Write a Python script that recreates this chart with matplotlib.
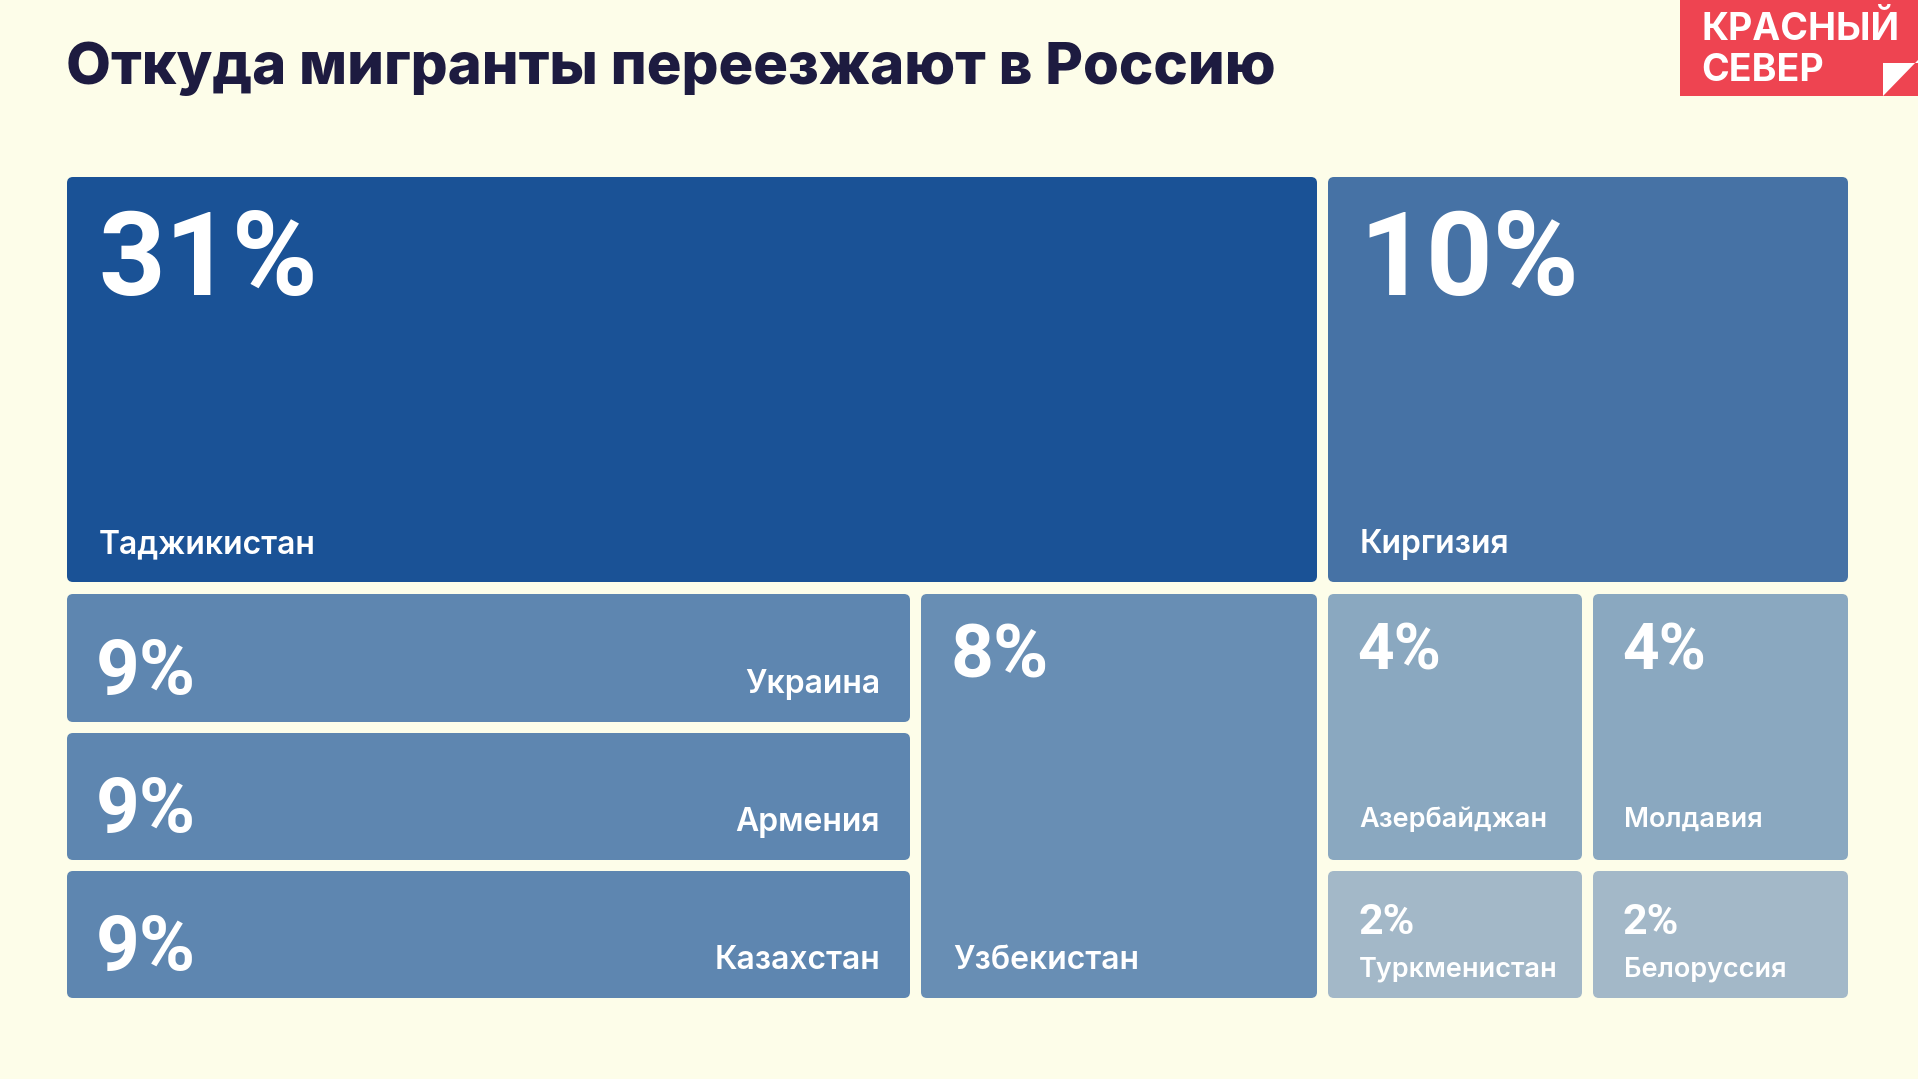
import matplotlib
matplotlib.use("Agg")
import matplotlib.pyplot as plt
from matplotlib.patches import FancyBboxPatch, Rectangle, Polygon

# ---------------- data ----------------
countries = ["Таджикистан", "Киргизия", "Украина", "Армения", "Казахстан",
             "Узбекистан", "Азербайджан", "Молдавия", "Туркменистан", "Белоруссия"]
shares = [31, 10, 9, 9, 9, 8, 4, 4, 2, 2]
title = "Откуда мигранты переезжают в Россию"
logo_lines = ["КРАСНЫЙ", "СЕВЕР"]

# ---------------- layout (grid of the designed treemap) ----------------
W, H = 1918, 1079
col_edges = [67, 910, 921, 1317, 1328, 1582, 1593, 1848]
row_edges = [177, 582, 594, 722, 733, 860, 871, 998]
# (col_start, col_end, row_start, row_end) indices into the edge lists
cells = [(0, 3, 0, 1), (4, 7, 0, 1),
         (0, 1, 2, 3), (0, 1, 4, 5), (0, 1, 6, 7),
         (2, 3, 2, 7),
         (4, 5, 2, 5), (6, 7, 2, 5),
         (4, 5, 6, 7), (6, 7, 6, 7)]
kinds = ["big", "big", "row", "row", "row", "tall", "mid", "mid", "small", "small"]

tile_colors = {31: "#1a5296", 10: "#4672a5", 9: "#5e86b0", 8: "#688eb4",
               4: "#8aa8c0", 2: "#a3b8c8"}
BG = "#fdfde9"
TITLE_C = "#1d1b40"
RED = "#ee4451"
FONT = ["Inter", "DejaVu Sans"]
NUMFONT = ["Roboto", "DejaVu Sans"]

fig = plt.figure(figsize=(W / 100, H / 100), dpi=100, facecolor=BG)
ax = fig.add_axes([0, 0, 1, 1])
ax.set_xlim(0, W)
ax.set_ylim(H, 0)
ax.axis("off")
ax.set_facecolor(BG)

def num(x, y, s, size):
    ax.text(x, y, s, color="white", fontsize=size, fontweight="bold",
            family=NUMFONT, va="baseline", ha="left")

def lab(x, y, s, size, ha="left"):
    ax.text(x, y, s, color="white", fontsize=size, fontweight="semibold",
            family=FONT, va="baseline", ha=ha)

for name, val, cell, kind in zip(countries, shares, cells, kinds):
    c0, c1, r0, r1 = cell
    x0, x1 = col_edges[c0], col_edges[c1]
    y0, y1 = row_edges[r0], row_edges[r1]
    ax.add_patch(FancyBboxPatch((x0, y0), x1 - x0, y1 - y0,
                                boxstyle="round,pad=0,rounding_size=6",
                                fc=tile_colors[val], ec="none"))
    pct = f"{val}%"
    if kind == "big":
        num(x0 + 31, y0 + 118, pct, 84)
        lab(x0 + 32, y1 - 29, name, 23)
    elif kind == "row":
        num(x0 + 29, y1 - 28, pct, 55)
        lab(x1 - 30, y1 - 29, name, 23, ha="right")
    elif kind == "tall":
        num(x0 + 30, y0 + 84, pct, 54)
        lab(x0 + 32, y1 - 29, name, 23)
    elif kind == "mid":
        num(x0 + 29, y0 + 75, pct, 46)
        lab(x0 + 31, y1 - 33, name, 19.5)
    else:
        num(x0 + 30, y0 + 63, pct, 31)
        lab(x0 + 31, y1 - 21, name, 19.5)

# title
ax.text(66, 84, title, color=TITLE_C, fontsize=41.8, fontweight="heavy",
        family=FONT, va="baseline", ha="left")

# logo
ax.add_patch(Rectangle((1680, 0), W - 1680, 96, fc=RED, ec="none"))
ax.text(1701, 40, logo_lines[0], color="white", fontsize=27, fontweight="bold",
        family=FONT, va="baseline", ha="left")
ax.text(1701, 81, logo_lines[1], color="white", fontsize=27, fontweight="bold",
        family=FONT, va="baseline", ha="left")
ax.add_patch(Polygon([(1883, 63), (W, 63), (W, 60), (1883, 96)], closed=True,
                     fc="white", ec="none"))

fig.savefig("out.png", dpi=100, facecolor=BG)
